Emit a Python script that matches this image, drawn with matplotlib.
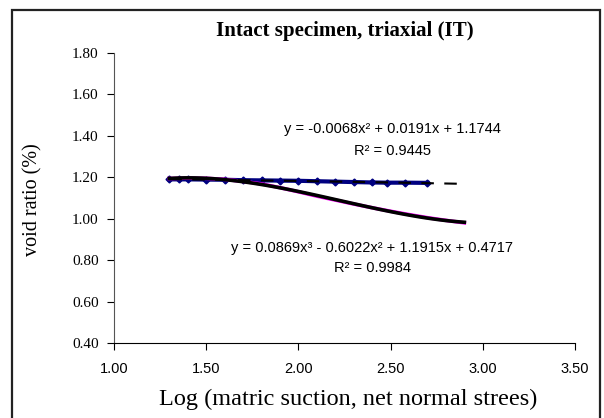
import numpy as np
import matplotlib.pyplot as plt
from matplotlib.patches import Rectangle

# data
x_flat = [1.30, 1.35, 1.40, 1.50, 1.60, 1.70, 1.80, 1.90, 2.00, 2.10,
          2.20, 2.30, 2.40, 2.48, 2.58, 2.70]
y_flat = [1.190, 1.190, 1.190, 1.189, 1.188, 1.186, 1.185, 1.184, 1.183, 1.181,
          1.179, 1.177, 1.175, 1.174, 1.174, 1.173]

x_drop = [1.30, 1.40, 1.50, 1.60, 1.70, 1.80, 1.90, 2.00, 2.10, 2.20,
          2.30, 2.40, 2.50, 2.60, 2.70, 2.80, 2.90]
y_drop = [1.194, 1.196, 1.195, 1.190, 1.180, 1.168, 1.150, 1.130, 1.109, 1.090,
          1.071, 1.053, 1.036, 1.020, 1.005, 0.992, 0.980]

eq_flat = 'y = -0.0068x² + 0.0191x + 1.1744'
r2_flat = 'R² = 0.9445'
eq_drop = 'y = 0.0869x³ - 0.6022x² + 1.1915x + 0.4717'
r2_drop = 'R² = 0.9984'

x_ticks = [1.00, 1.50, 2.00, 2.50, 3.00, 3.50]
y_ticks = [0.40, 0.60, 0.80, 1.00, 1.20, 1.40, 1.60, 1.80]

W, H = 604, 418
fig = plt.figure(figsize=(W/100, H/100), dpi=100)
ax = fig.add_axes([114/W, 1-343/H, 461/W, 290/H])

# outer chart border
fig.patches.append(Rectangle((12/W, -0.01), 588/W, 1.01-10/H, transform=fig.transFigure,
                             fill=False, edgecolor='#222222', linewidth=1.6))

ax.plot(x_flat, y_flat, color='#000080', linewidth=3, marker='D', markersize=3.5)
ax.plot(x_drop, y_drop, color='#FF00FF', linewidth=2.6)

# trend lines (polynomial fits, like excel)
xt = np.linspace(1.30, 2.90, 80)
c2 = np.polyfit(x_flat, y_flat, 2)
ax.plot(xt, np.polyval(c2, xt), color='black', linewidth=1.5, dashes=(6, 5))
c3 = np.polyfit(x_drop, y_drop, 3)
ax.plot(xt, np.polyval(c3, xt), color='black', linewidth=2.6)

txt = dict(fontsize=10.5, family='Liberation Sans', ha='center', va='center')
ax.text(2.51, 1.432, eq_flat, **txt)
ax.text(2.51, 1.327, r2_flat, **txt)
ax.text(2.40, 0.860, eq_drop, **txt)
ax.text(2.40, 0.760, r2_drop, **txt)

ax.set_xlim(1.0, 3.5)
ax.set_ylim(0.4, 1.8)
ax.set_xticks(x_ticks)
ax.set_yticks(y_ticks)
ax.set_xticklabels(['%.2f' % v for v in x_ticks], family='Liberation Sans', fontsize=10.5)
ax.set_yticklabels(['%.2f' % v for v in y_ticks], family='Liberation Serif', fontsize=11)
ax.tick_params(axis='x', direction='out', length=5, width=0.8, pad=9)
ax.tick_params(axis='y', direction='out', length=5, width=0.8, pad=6)
ax.spines['top'].set_visible(False)
ax.spines['right'].set_visible(False)
ax.spines['left'].set_color('#555555')

fig.text(345/W, 1-31/H, 'Intact specimen, triaxial (IT)', family='Liberation Serif',
         fontweight='bold', fontsize=15, ha='center', va='center')
fig.text(348/W, 1-399/H, 'Log (matric suction, net normal strees)', family='Liberation Serif',
         fontsize=17.5, ha='center', va='center')
fig.text(33/W, 1-200/H, 'void ratio (%)', family='Liberation Serif', fontsize=14.5,
         rotation=90, ha='center', va='center')

fig.savefig('out.png', dpi=100)
